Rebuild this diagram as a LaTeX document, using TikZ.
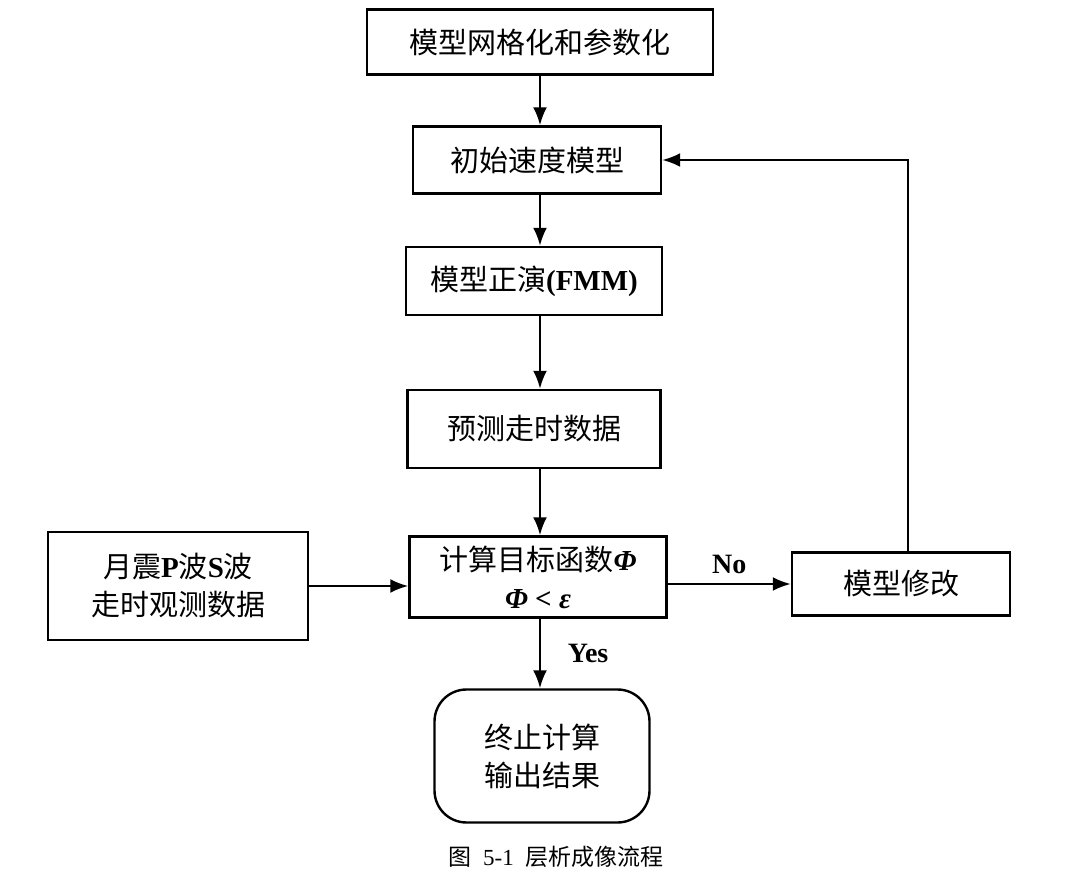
\documentclass[tikz,border=0pt]{standalone}
\usepackage{fontspec}
\setmainfont{Liberation Serif}
\newfontfamily\cjk{Noto Sans CJK SC}[BoldFont=Noto Sans CJK SC]
\usetikzlibrary{arrows.meta}

\tikzset{
	box/.style={draw,line width=1.2pt,align=center,inner sep=2pt,
		font=\fontsize{14.5}{19}\selectfont\bfseries},
	flow/.style={line width=1.2pt,-{Latex[length=9pt,width=7pt]}},
	lbl/.style={font=\fontsize{14}{16}\selectfont\bfseries}
}

\begin{document}
\begin{tikzpicture}[x=0.5pt,y=-0.5pt]
		% frame
		\useasboundingbox (0,0) rectangle (1077,887);
		% boxes of the main column
		\node[box,minimum width=173pt,minimum height=32.5pt] (grid) at (540,42) {\cjk 模型网格化和参数化};
		\node[box,minimum width=124pt,minimum height=33.5pt] (init) at (537,160) {\cjk 初始速度模型};
		\node[box,minimum width=128pt,minimum height=34pt] (fwd) at (534,281) {{\cjk 模型正演}(FMM)};
		\node[box,minimum width=126.5pt,minimum height=39pt] (pred) at (534,429) {\cjk 预测走时数据};
		\node[box,minimum width=128.5pt,minimum height=40.5pt] (obj) at (538,577) {{\cjk 计算目标函数}\itshape Φ\\ \itshape Φ \upshape< \itshape ε};
		\node[box,rounded corners=16pt,minimum width=107.5pt,minimum height=66.5pt] (stop) at (542,756) {\cjk 终止计算\\ \cjk 输出结果};
		% side boxes
		\node[box,minimum width=130pt,minimum height=54pt] (obs) at (178,586) {{\cjk 月震}P{\cjk 波}S{\cjk 波}\\ \cjk 走时观测数据};
		\node[box,minimum width=109pt,minimum height=31.5pt] (mod) at (901,584) {\cjk 模型修改};
		% caption
		\node[font=\fontsize{11.5}{14}\selectfont] (cap) at (556,857) {{\cjk 图}\ \ 5-1\ \ {\cjk 层析成像流程}};
		% arrows down the column
		\coordinate (c) at (540,0);
		\draw[flow] (grid.south -| c) -- (init.north -| c);
		\draw[flow] (init.south -| c) -- (fwd.north -| c);
		\draw[flow] (fwd.south -| c) -- (pred.north -| c);
		\draw[flow] (pred.south -| c) -- (obj.north -| c);
		\draw[flow] (obj.south -| c) -- (stop.north -| c) node[lbl,midway,right=10pt] {Yes};
		% side arrows
		\draw[flow] (obs.east) -- (obs.east -| obj.west);
		\draw[flow] (obj.east |- mod.west) -- (mod.west) node[lbl,midway,above=1pt] {No};
		\draw[flow] (mod.north -| 908,0) |- (init.east);
	\end{tikzpicture}
\end{document}
